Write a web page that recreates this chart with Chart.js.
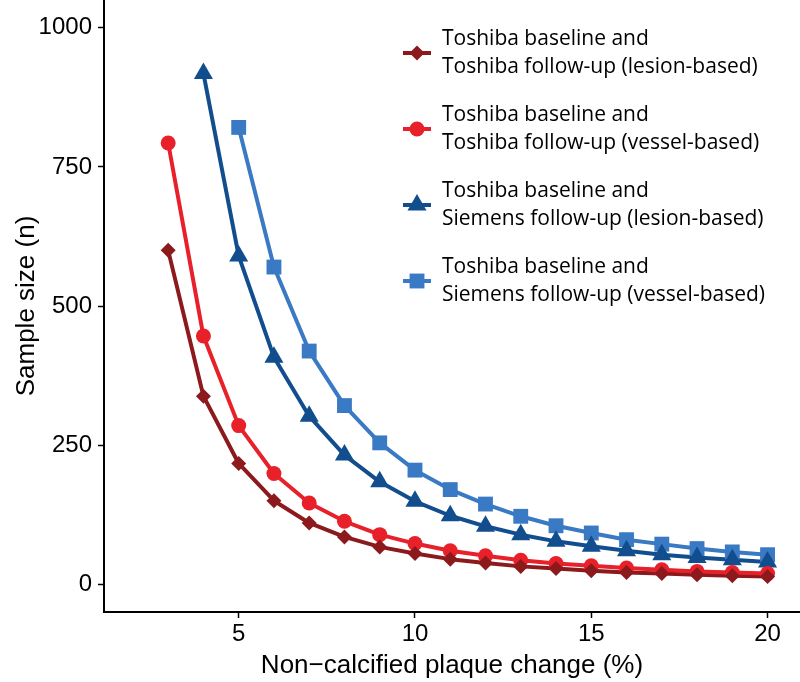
<!DOCTYPE html>
<html>
<head>
<meta charset="utf-8">
<script src="https://cdn.jsdelivr.net/npm/chart.js@4.4.1/dist/chart.umd.min.js"></script>
<style>
  html, body { margin: 0; padding: 0; background: #fff; }
  #wrap { width: 800px; height: 682px; }
</style>
</head>
<body>
<div id="wrap"><canvas id="chart" width="800" height="682"></canvas></div>
<script>
// valores (x = variação da placa em %)
const xValues = [3, 4, 5, 6, 7, 8, 9, 10, 11, 12, 13, 14, 15, 16, 17, 18, 19, 20];
const toshibaLesion = [600, 338, 217, 150, 110, 85, 67, 55, 45, 38, 32, 28, 24, 21, 19, 17, 15, 14];
const toshibaVessel = [793, 446, 285, 199, 146, 113, 89, 73, 60, 51, 43, 37, 33, 29, 26, 23, 21, 19];
const siemensLesion = [null, 918, 590, 408, 302, 232, 184, 149, 123, 104, 89, 77, 68, 60, 53, 48, 44, 40];
const siemensVessel = [null, null, 821, 570, 419, 321, 254, 205, 170, 144, 122, 105, 92, 80, 72, 64, 58, 53];

const xTicks = [5, 10, 15, 20];
const yTicks = [0, 250, 500, 750, 1000];

const seriesValues = [toshibaLesion, toshibaVessel, siemensLesion, siemensVessel];
const seriesColors = ['#8c1a1c', '#e8202a', '#124d8e', '#3a79c3'];
const seriesStyles = ['rectRot', 'circle', 'triangle', 'rect'];
const seriesRadius = [7.5, 7.5, 11, 10.5];
const legendLabels = [
    ['Toshiba baseline and', 'Toshiba follow-up (lesion-based)'],
    ['Toshiba baseline and', 'Toshiba follow-up (vessel-based)'],
    ['Toshiba baseline and', 'Siemens follow-up (lesion-based)'],
    ['Toshiba baseline and', 'Siemens follow-up (vessel-based)']
];

const toPoints = (values) => xValues
    .map((x, i) => ({ x: x, y: values[i] }))
    .filter((p) => p.y !== null);

// pontos por cima de todas as linhas (como no ggplot)
const datasets = [];
seriesValues.forEach((values, i) => {
    datasets.push({
        data: toPoints(values),
        showLine: false,
        pointStyle: seriesStyles[i],
        pointRadius: seriesRadius[i],
        pointHoverRadius: seriesRadius[i],
        pointBackgroundColor: seriesColors[i],
        pointBorderWidth: 0,
        order: i
    });
});
seriesValues.forEach((values, i) => {
    datasets.push({
        data: toPoints(values),
        borderColor: seriesColors[i],
        borderWidth: 4,
        pointRadius: 0,
        tension: 0,
        borderJoinStyle: 'round',
        order: 4 + (i === 1 ? 0 : i === 0 ? 1 : i)
    });
});

const axisFont = { family: "'Liberation Sans', Arial, sans-serif", size: 24 };
const titleFont = { family: "'Liberation Sans', Arial, sans-serif", size: 26 };

// legenda desenhada à mão dentro da área do gráfico
const sideLegend = {
    id: 'sideLegend',
    afterDraw(chart) {
        const ctx = chart.ctx;
        ctx.save();
        legendLabels.forEach((lines, i) => {
            const cy = 53 + i * 76;
            ctx.strokeStyle = seriesColors[i];
            ctx.lineWidth = 4;
            ctx.beginPath();
            ctx.moveTo(403, cy);
            ctx.lineTo(431, cy);
            ctx.stroke();
            ctx.fillStyle = seriesColors[i];
            Chart.helpers.drawPoint(ctx, {
                pointStyle: seriesStyles[i],
                radius: seriesRadius[i],
                rotation: 0,
                borderWidth: 0
            }, 417, cy);
            ctx.fillStyle = '#000';
            ctx.font = "21px 'Open Sans', Lato, sans-serif";
            ctx.textAlign = 'left';
            ctx.textBaseline = 'middle';
            ctx.fillText(lines[0], 442, cy - 14);
            ctx.fillText(lines[1], 442, cy + 14);
        });
        ctx.restore();
    }
};

const ctx = document.getElementById('chart').getContext('2d');
const chart = new Chart(ctx, {
    type: 'line',
    data: { datasets: datasets },
    plugins: [sideLegend],
    options: {
        responsive: false,
        animation: false,
        layout: { padding: 0, autoPadding: false },
        plugins: { legend: { display: false }, tooltip: { enabled: false } },
        elements: { line: { fill: false } },
        clip: false,
        scales: {
            x: {
                type: 'linear',
                min: 1.18,
                max: 20.92,
                afterBuildTicks: (scale) => { scale.ticks = xTicks.map((v) => ({ value: v })); },
                afterFit: (scale) => {
                    scale.height = 70;
                    scale.paddingLeft = 0;
                    scale.paddingRight = 0;
                },
                grid: { drawOnChartArea: false, tickLength: 6, tickColor: '#000', tickWidth: 1.5 },
                border: { color: '#000', width: 2 },
                ticks: { color: '#000', font: axisFont, padding: 2, maxRotation: 0, callback: (v) => String(v) },
                title: {
                    display: true,
                    text: 'Non\u2212calcified plaque change (%)',
                    color: '#000',
                    font: titleFont,
                    padding: { top: 0, bottom: 1 }
                }
            },
            y: {
                type: 'linear',
                min: -50,
                max: 1050,
                afterBuildTicks: (scale) => { scale.ticks = yTicks.map((v) => ({ value: v })); },
                afterFit: (scale) => {
                    scale.width = 104;
                    scale.paddingTop = 0;
                    scale.paddingBottom = 0;
                },
                grid: { drawOnChartArea: false, tickLength: 6, tickColor: '#000', tickWidth: 1.5 },
                border: { color: '#000', width: 2 },
                ticks: { color: '#000', font: axisFont, padding: 6, callback: (v) => String(v) },
                title: {
                    display: true,
                    text: 'Sample size (n)',
                    color: '#000',
                    font: titleFont,
                    padding: { top: 11, bottom: 0 }
                }
            }
        }
    }
});
</script>
</body>
</html>
